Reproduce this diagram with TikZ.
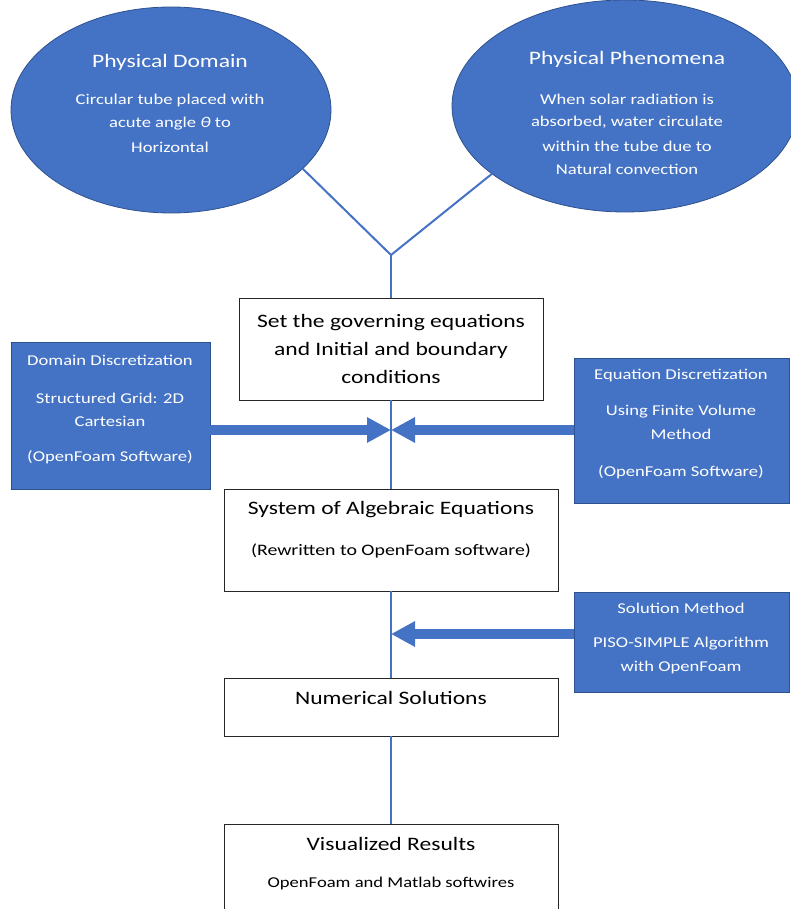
\documentclass[tikz,border=0pt]{standalone}
\usepackage{fontspec}
\setmainfont{Carlito}[FakeStretch=1.24]
\usetikzlibrary{shapes.geometric,arrows.meta}
\definecolor{ofblue}{HTML}{4472C4}
\definecolor{ofborder}{HTML}{2F528F}
\begin{document}
\begin{tikzpicture}[x=1pt,y=-1pt,
  blob/.style={ellipse,fill=ofblue,draw=ofborder,line width=0.8pt,inner sep=0,outer sep=0},
  bluebox/.style={rectangle,fill=ofblue,draw=ofborder,line width=0.8pt,inner sep=0,outer sep=0},
  whitebox/.style={rectangle,fill=white,draw=black!85,line width=1pt,inner sep=0,outer sep=0},
  wt/.style={text=white,inner sep=0,font=\fontsize{15}{18}\selectfont},
  wtitle/.style={text=white,inner sep=0,font=\fontsize{19}{22}\selectfont},
  bt/.style={text=black,inner sep=0,font=\fontsize{19}{23}\selectfont},
  bs/.style={text=black,inner sep=0,font=\fontsize{16}{18}\selectfont},
  conn/.style={draw=ofblue,line width=2pt},
  fat/.style={draw=ofblue,line width=10pt,-{Triangle[length=24pt,width=24pt]}},
]
\useasboundingbox (0,0) rectangle (790,909);

% ellipses
\node[blob,minimum width=320pt,minimum height=206pt] (pd) at (171,110) {};
\node[blob,minimum width=346pt,minimum height=212pt] (pp) at (625,106) {};
\node[wtitle] (pdt) at (170,62) {Physical Domain};
\node[wt] (pd1) at (170,101) {Circular tube placed with};
\node[wt] (pd2) at (170,124) {acute angle \textit{θ} to};
\node[wt] (pd3) at (170,147) {Horizontal};
\node[wtitle] (ppt) at (627,59) {Physical Phenomena};
\node[wt] (pp1) at (627,99) {When solar radiation is};
\node[wt] (pp2) at (627,122) {absorbed, water circulate};
\node[wt] (pp3) at (627,146) {within the tube due to};
\node[wt] (pp4) at (627,169) {Natural convection};

% main boxes
\node[whitebox,minimum width=304pt,minimum height=102pt,align=center,
      font=\fontsize{19}{28}\selectfont] (gov) at (391,349)
      {Set the governing equations\\and Initial and boundary\\conditions};
\node[whitebox,minimum width=334pt,minimum height=102pt] (sys) at (391,540) {};
\node[bt] (syst) at (391,510) {System of Algebraic Equations};
\node[bs] (syss) at (391,551) {(Rewritten to OpenFoam software)};
\node[whitebox,minimum width=334pt,minimum height=58pt] (num) at (391,707) {};
\node[bt] (numt) at (391,698) {Numerical Solutions};
\node[whitebox,minimum width=334pt,minimum height=140pt] (vis) at (391,894) {};
\node[bt] (vist) at (391,844) {Visualized Results};
\node[bs,font=\fontsize{15}{18}\selectfont] (viss) at (391,883) {OpenFoam and Matlab softwires};

% blue side boxes
\node[bluebox,minimum width=199pt,minimum height=147pt] (ld) at (110.5,415.5) {};
\node[wt] (ld1) at (110,360) {Domain Discretization};
\node[wt] (ld2) at (110,398) {Structured Grid: 2D};
\node[wt] (ld3) at (110,421) {Cartesian};
\node[wt] (ld4) at (110,457) {(OpenFoam Software)};
\node[bluebox,minimum width=215pt,minimum height=145pt] (rd) at (681.5,430.5) {};
\node[wt] (rd1) at (681,376) {Equation Discretization};
\node[wt] (rd2) at (681,412) {Using Finite Volume};
\node[wt] (rd3) at (681,434) {Method};
\node[wt] (rd4) at (681,472) {(OpenFoam Software)};
\node[bluebox,minimum width=215pt,minimum height=100pt] (sm) at (681.5,642) {};
\node[wt] (sm1) at (681,608) {Solution Method};
\node[wt] (sm2) at (681,644) {PISO-SIMPLE Algorithm};
\node[wt] (sm3) at (681,667) {with OpenFoam};

% connectors
\coordinate (apex) at (391,255);
\coordinate (j1) at (391,430);
\coordinate (j2) at (391,634);
\draw[conn] (pd.-24) -- (apex) -- (pp.207);
\draw[conn] (apex) -- (gov.north);
\draw[conn] (gov.south) -- (sys.north);
\draw[conn] (sys.south) -- (num.north);
\draw[conn] (num.south) -- (vis.north);
\draw[fat] (ld.east |- j1) -- (j1);
\draw[fat] (rd.west |- j1) -- (j1);
\draw[fat] (sm.west |- j2) -- (j2);
\end{tikzpicture}
\end{document}
